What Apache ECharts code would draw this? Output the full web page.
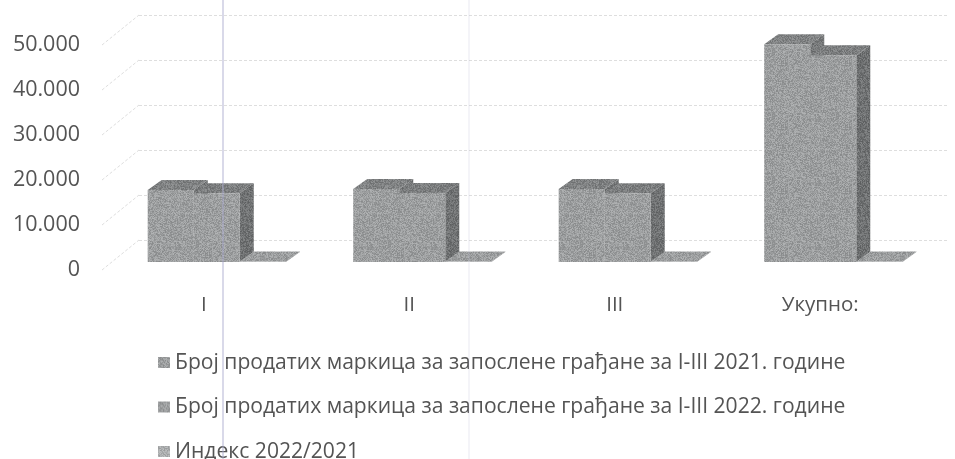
<!DOCTYPE html>
<html><head><meta charset="utf-8">
<script src="https://cdn.jsdelivr.net/npm/echarts@6/dist/echarts.min.js"></script>
<style>html,body{margin:0;padding:0;background:#fff}#c{width:955px;height:459px}</style>
</head><body><div id="c"></div>
<script>
var categories = ['I', 'II', 'III', 'Укупно:'];
var sold2021 = [16000, 16200, 16200, 48400];
var sold2022 = [15300, 15350, 15300, 45950];
var index2022 = [96, 95, 94, 95];
var yTicks = [0, 10000, 20000, 30000, 40000, 50000];
var seriesNames = [
  'Број продатих маркица за запослене грађане за I-III 2021. године',
  'Број продатих маркица за запослене грађане за I-III 2022. године',
  'Индекс 2022/2021'
];
var FONT = '"Open Sans"';
var TXT = '#545454';
// Scanned-paper grain: a fixed decorative tile, not data.
function grain(level, amp, seed){
  var c=document.createElement('canvas'); c.width=c.height=64;
  var g=c.getContext('2d'), img=g.createImageData(64,64), s=seed;
  for(var i=0;i<img.data.length;i+=4){
    s=(s*1103515245+12345)&0x7fffffff;
    var n=((s>>8)%1000)/1000-0.5, v=Math.round(level+n*amp);
    img.data[i]=v; img.data[i+1]=v+2; img.data[i+2]=v+3; img.data[i+3]=255;
  }
  g.putImageData(img,0,0);
  return {image:c,repeat:'repeat'};
}
var faces = [
  {front:grain(156,42,7),  top:grain(128,42,11), side:grain(118,42,13)},
  {front:grain(156,42,7),  top:grain(124,42,17), side:grain(112,42,19)},
  {front:grain(172,38,23), top:grain(156,42,29), side:grain(130,36,31)}
];
function barSeries(name, values, i){
  return {
    name:name, type:'custom', xAxisIndex:0, yAxisIndex:0, z:3+i,
    itemStyle:{color:faces[i].front},
    encode:{x:0,y:1},
    data:values.map(function(v,k){return [k,v];}),
    renderItem:function(params, api){
      var k=api.value(0), v=api.value(1);
      var band=api.size([1,0])[0];
      var barW=band*0.224, gap=(band-3*barW)/2;
      var p0=api.coord([k,0]), p1=api.coord([k,v]);
      var x0=p0[0]-band/2+gap+i*barW+13, x1=x0+barW;
      var yb=p0[1]-8, yt=p1[1]-8;
      var dx=14, dy=-10;
      return {type:'group',children:[
        {type:'polygon',shape:{points:[[x0,yt],[x0+dx,yt+dy],[x1+dx,yt+dy],[x1,yt]]},style:{fill:faces[i].top}},
        {type:'polygon',shape:{points:[[x1,yt],[x1+dx,yt+dy],[x1+dx,yb+dy],[x1,yb]]},style:{fill:faces[i].side}},
        {type:'rect',shape:{x:x0,y:yt,width:barW,height:yb-yt},style:{fill:faces[i].front}}
      ]};
    }
  };
}
var wallSeries = {
  type:'custom', xAxisIndex:0, yAxisIndex:0, z:1, silent:true,
  data:yTicks.map(function(v){return [0,v];}),
  encode:{x:0,y:1},
  renderItem:function(params, api){
    var p=api.coord([0,api.value(1)]);
    var band=api.size([1,0])[0];
    var x=p[0]-band/2;
    return {type:'line',shape:{x1:x+1,y1:p[1],x2:x+38,y2:p[1]-30},
      style:{stroke:'#dedede',lineWidth:1,lineDash:[3,2]}};
  }
};
var option = {
  animation:false,
  backgroundColor:'#fff',
  grid:[
    {left:101,top:45,width:822,height:225},
    {left:139,top:15,width:808,height:225}
  ],
  xAxis:[
    {type:'category',gridIndex:0,data:categories,
     axisLine:{show:false},axisTick:{show:false},
     axisLabel:{margin:25,fontFamily:FONT,fontSize:20.5,color:TXT}},
    {type:'value',gridIndex:1,min:0,max:1,show:false}
  ],
  yAxis:[
    {type:'value',gridIndex:0,min:0,max:50000,interval:10000,
     axisLine:{show:false},axisTick:{show:false},splitLine:{show:false},
     axisLabel:{margin:21,fontFamily:FONT,fontSize:21.5,color:TXT,
       formatter:function(v){return String(v).replace(/\B(?=(\d{3})+$)/g,'.');}}},
    {type:'value',gridIndex:1,min:0,max:50000,interval:10000,
     axisLine:{show:false},axisTick:{show:false},axisLabel:{show:false},
     splitLine:{show:true,lineStyle:{color:'#dedede',width:1,type:[3,2]}}}
  ],
  legend:{
    orient:'vertical',left:153,top:347,height:200,itemGap:23.5,itemWidth:12,itemHeight:11,
    icon:'rect',data:seriesNames,
    textStyle:{fontFamily:FONT,fontSize:21.1,color:TXT}
  },
  series:[
    barSeries(seriesNames[0],sold2021,0),
    barSeries(seriesNames[1],sold2022,1),
    barSeries(seriesNames[2],index2022,2),
    wallSeries
  ],
  graphic:[
    {type:'line',silent:true,z:50,shape:{x1:223,y1:0,x2:223,y2:459},style:{stroke:'rgba(170,170,205,0.6)',lineWidth:1.5}},
    {type:'line',silent:true,z:50,shape:{x1:469,y1:0,x2:469,y2:459},style:{stroke:'rgba(190,190,215,0.35)',lineWidth:1}}
  ]
};
var chart = echarts.init(document.getElementById('c'),null,{renderer:'canvas'});
chart.setOption(option);
</script></body></html>
